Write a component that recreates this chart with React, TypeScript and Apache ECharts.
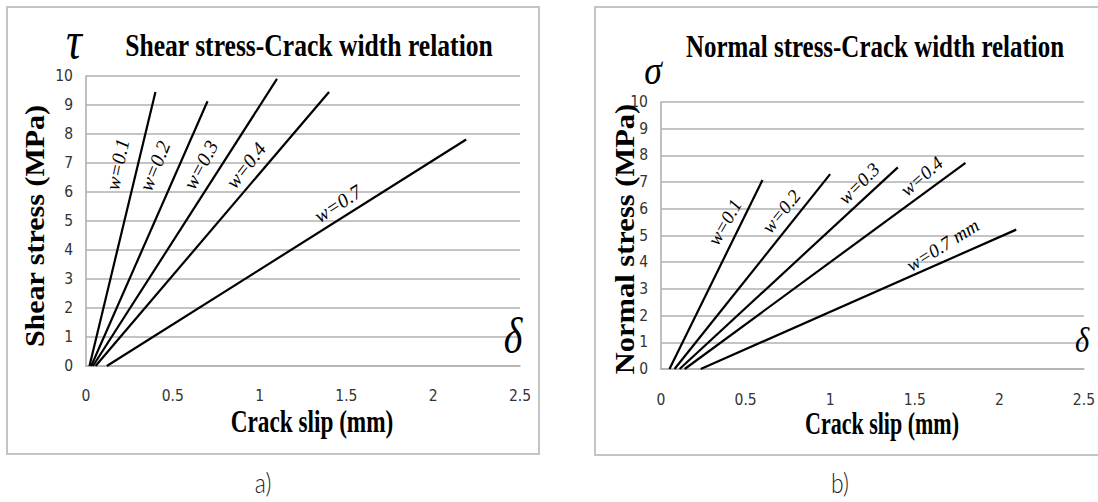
import React, { useEffect, useRef } from "react";
import * as echarts from "echarts";

// ---- data ----
const xMin = 0;
const xMax = 2.5;
const xStep = 0.5;
const yMin = 0;
const yMax = 10;
const yStep = 1;

const shearLabels = ["w=0.1", "w=0.2", "w=0.3", "w=0.4", "w=0.7"];
const shearStart = [[0.02, 0], [0.03, 0], [0.04, 0], [0.055, 0], [0.12, 0]];
const shearEnd = [[0.4, 9.45], [0.7, 9.13], [1.1, 9.9], [1.4, 9.45], [2.19, 7.81]];
const shearLabelPos = [[0.18, 6.95], [0.395, 6.9], [0.66, 6.94], [0.92, 6.92], [1.45, 5.6]];
const shearLabelAngle = [78, 68, 62, 52, 33];

const normalLabels = ["w=0.1", "w=0.2", "w=0.3", "w=0.4", "w=0.7 mm"];
const normalStart = [[0.05, 0], [0.08, 0], [0.11, 0], [0.14, 0], [0.235, 0]];
const normalEnd = [[0.6, 7.08], [1.0, 7.3], [1.4, 7.55], [1.8, 7.72], [2.1, 5.22]];
const normalLabelPos = [[0.376, 5.5], [0.71, 5.9], [1.17, 6.95], [1.54, 7.22], [1.665, 4.64]];
const normalLabelAngle = [60, 51, 45, 41, 32];

const titles = ["Shear stress-Crack width relation", "Normal stress-Crack width relation"];
const yNames = ["Shear stress (MPa)", "Normal stress (MPa)"];
const xName = "Crack slip (mm)";
const captions = ["a)", "b)"];

const SERIF = "'Liberation Serif','Times New Roman',serif";
const TICKFONT = "'Liberation Sans Narrow','DejaVu Sans Condensed','Open Sans',sans-serif";
const GRID = "#b0b0b0";

function makeAxes(gi: number) {
  const xAxis = {
    type: "value",
    gridIndex: gi,
    min: xMin,
    max: xMax,
    interval: xStep,
    axisLine: { show: true, lineStyle: { color: GRID, width: 1.6 } },
    axisTick: { show: false },
    splitLine: { show: false },
    axisLabel: { color: "#333", fontSize: 15.5, fontFamily: TICKFONT, margin: gi === 0 ? 22 : 23 },
  };
  const yAxis = {
    type: "value",
    gridIndex: gi,
    min: yMin,
    max: yMax,
    interval: yStep,
    axisLine: { show: true, lineStyle: { color: GRID, width: 1.6 } },
    axisTick: { show: false },
    splitLine: { show: true, lineStyle: { color: GRID, width: 1.6 } },
    axisLabel: { color: "#333", fontSize: 15.5, fontFamily: TICKFONT, margin: 13 },
  };
  return { xAxis, yAxis };
}

function makeSeries(gi: number, labels: string[], starts: number[][], ends: number[][]) {
  return labels.map((name, i) => ({
    type: "line",
    name,
    xAxisIndex: gi,
    yAxisIndex: gi,
    data: [starts[i], ends[i]],
    symbol: "none",
    silent: true,
    lineStyle: { color: "#000", width: 2.2 },
  }));
}

function txt(
  text: string,
  x: number,
  y: number,
  o: { size: number; weight?: string; style?: string; family?: string; sx?: number; sy?: number; rot?: number; fill?: string }
) {
  return {
    type: "text",
    x,
    y,
    rotation: o.rot || 0,
    scaleX: o.sx ?? 1,
    scaleY: o.sy ?? 1,
    silent: true,
    z: 10,
    style: {
      text,
      fontSize: o.size,
      fontWeight: o.weight || "normal",
      fontStyle: o.style || "normal",
      fontFamily: o.family || SERIF,
      fill: o.fill || "#000",
      align: "center",
      verticalAlign: "middle",
      textAlign: "center",
      textVerticalAlign: "middle",
    },
  };
}

export default function App() {
  const ref = useRef<HTMLDivElement>(null);
  useEffect(() => {
    if (!ref.current) return;
    const chart = echarts.init(ref.current, null, { renderer: "svg" });
    const a0 = makeAxes(0);
    const a1 = makeAxes(1);
    chart.setOption({
      animation: false,
      backgroundColor: "#fff",
      grid: [
        { left: 86, top: 76, width: 434, height: 290 },
        { left: 661, top: 102, width: 426, height: 267 },
      ],
      xAxis: [a0.xAxis, a1.xAxis],
      yAxis: [a0.yAxis, a1.yAxis],
      series: [
        ...makeSeries(0, shearLabels, shearStart, shearEnd),
        ...makeSeries(1, normalLabels, normalStart, normalEnd),
      ],
    });

    const graphics: any[] = [
      {
        type: "rect",
        shape: { x: 7, y: 7, width: 532, height: 447 },
        style: { fill: "none", stroke: "#c4c4c4", lineWidth: 2 },
        silent: true,
      },
      {
        type: "rect",
        shape: { x: 595, y: 7, width: 520, height: 448 },
        style: { fill: "none", stroke: "#c4c4c4", lineWidth: 2 },
        silent: true,
      },
      txt(titles[0], 309, 45, { size: 32, weight: "bold", sx: 0.8 }),
      txt(titles[1], 875, 46, { size: 32, weight: "bold", sx: 0.78 }),
      txt(yNames[0], 35, 226, { size: 30, weight: "bold", rot: Math.PI / 2, sy: 0.88 }),
      txt(yNames[1], 625, 239, { size: 30.5, weight: "bold", rot: Math.PI / 2, sy: 0.88 }),
      txt(xName, 312, 422, { size: 31, weight: "bold", sx: 0.75 }),
      txt(xName, 882, 424, { size: 31, weight: "bold", sx: 0.71 }),
      txt("\u03C4", 74, 40, { size: 52, style: "italic", sx: 0.85 }),
      txt("\u03B4", 513, 336, { size: 50, style: "italic", sx: 0.8 }),
      txt("\u03C3", 653, 69, { size: 42, style: "italic", sx: 0.85 }),
      txt("\u03B4", 1082, 340, { size: 36, style: "italic", sx: 0.85 }),
      txt(captions[0], 263, 482, { size: 27, family: "Lato,'Open Sans',sans-serif", weight: "300", sx: 0.85, fill: "#222" }),
      txt(captions[1], 840, 482, { size: 27, family: "Lato,'Open Sans',sans-serif", weight: "300", sx: 0.85, fill: "#222" }),
    ];

    shearLabels.forEach((l, i) => {
      const p = chart.convertToPixel({ gridIndex: 0 }, shearLabelPos[i]) as number[];
      graphics.push(txt(l, p[0], p[1], { size: 20, style: "italic", rot: (shearLabelAngle[i] * Math.PI) / 180 }));
    });
    normalLabels.forEach((l, i) => {
      const p = chart.convertToPixel({ gridIndex: 1 }, normalLabelPos[i]) as number[];
      graphics.push(txt(l, p[0], p[1], { size: 19, style: "italic", rot: (normalLabelAngle[i] * Math.PI) / 180 }));
    });

    chart.setOption({ graphic: graphics });
    return () => chart.dispose();
  }, []);
  return (
    <div
      ref={ref}
      style={{ position: "fixed", left: 0, top: 0, width: 1098, height: 502, background: "#fff" }}
    />
  );
}
